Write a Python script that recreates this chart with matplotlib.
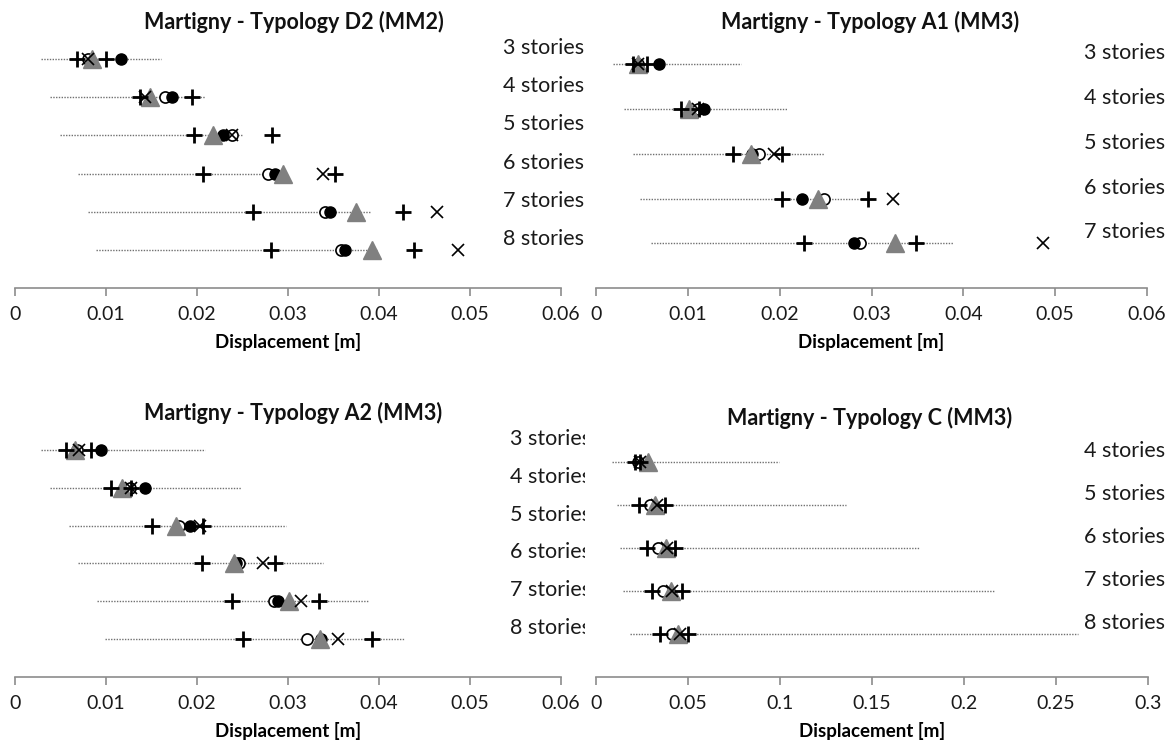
import numpy as np
import matplotlib
matplotlib.use("Agg")
import matplotlib.pyplot as plt
from matplotlib.transforms import Bbox, TransformedBbox

plt.rcParams['font.family'] = ['Lato', 'DejaVu Sans']

nan = np.nan

# ---- Martigny - Typology D2 (MM2)
d2_stories = ["3 stories", "4 stories", "5 stories", "6 stories", "7 stories", "8 stories"]
d2_lo = [0.0029, 0.0039, 0.0049, 0.0069, 0.0080, 0.0089]
d2_hi = [0.0160, 0.0209, 0.0250, 0.0290, 0.0390, 0.0398]
d2_plus_lo = [0.0068, 0.0137, 0.0197, 0.0207, 0.0261, 0.0281]
d2_plus_hi = [0.0100, 0.0195, 0.0282, 0.0352, 0.0426, 0.0438]
d2_filled = [0.0117, 0.0172, 0.0229, 0.0286, 0.0346, 0.0363]
d2_open = [0.0080, 0.0165, 0.0239, 0.0278, 0.0341, 0.0358]
d2_tri = [0.0085, 0.0148, 0.0218, 0.0294, 0.0375, 0.0392]
d2_cross = [0.0080, 0.0143, 0.0239, 0.0339, 0.0464, 0.0487]

# ---- Martigny - Typology A1 (MM3)
a1_stories = ["3 stories", "4 stories", "5 stories", "6 stories", "7 stories"]
a1_lo = [0.0019, 0.0030, 0.0040, 0.0048, 0.0060]
a1_hi = [0.0158, 0.0208, 0.0248, 0.0300, 0.0389]
a1_plus_lo = [0.0040, 0.0093, 0.0149, 0.0203, 0.0227]
a1_plus_hi = [0.0056, 0.0112, 0.0203, 0.0296, 0.0348]
a1_filled = [0.0069, 0.0118, 0.0170, 0.0224, 0.0281]
a1_open = [0.0046, 0.0111, 0.0177, 0.0248, 0.0287]
a1_tri = [0.0046, 0.0101, 0.0169, 0.0242, 0.0326]
a1_cross = [0.0046, 0.0111, 0.0194, 0.0323, 0.0487]

# ---- Martigny - Typology A2 (MM3)
a2_stories = ["3 stories", "4 stories", "5 stories", "6 stories", "7 stories", "8 stories"]
a2_lo = [0.0029, 0.0039, 0.0059, 0.0069, 0.0090, 0.0099]
a2_hi = [0.0209, 0.0248, 0.0298, 0.0338, 0.0389, 0.0428]
a2_plus_lo = [0.0056, 0.0106, 0.0150, 0.0205, 0.0239, 0.0251]
a2_plus_hi = [0.0083, 0.0128, 0.0207, 0.0286, 0.0334, 0.0392]
a2_filled = [0.0094, 0.0143, 0.0192, 0.0243, 0.0289, 0.0336]
a2_open = [0.0068, 0.0126, 0.0180, 0.0246, 0.0285, 0.0321]
a2_tri = [0.0066, 0.0118, 0.0177, 0.0241, 0.0301, 0.0335]
a2_cross = [0.0070, 0.0128, 0.0203, 0.0272, 0.0314, 0.0355]

# ---- Martigny - Typology C (MM3)
c_stories = ["4 stories", "5 stories", "6 stories", "7 stories", "8 stories"]
c_lo = [0.0087, 0.0112, 0.0130, 0.0147, 0.0185]
c_hi = [0.0994, 0.1357, 0.1754, 0.2169, 0.2617]
c_plus_lo = [0.0212, 0.0234, 0.0277, 0.0304, 0.0348]
c_plus_hi = [0.0239, 0.0375, 0.0429, 0.0466, 0.0502]
c_filled = [nan, nan, nan, nan, nan]
c_open = [0.0228, 0.0293, 0.0337, 0.0366, 0.0411]
c_tri = [0.0283, 0.0321, 0.0378, 0.0405, 0.0447]
c_cross = [0.0239, 0.0330, 0.0384, 0.0411, 0.0457]

ticks_006 = [0, 0.01, 0.02, 0.03, 0.04, 0.05, 0.06]
ticklabels_006 = ["0", "0.01", "0.02", "0.03", "0.04", "0.05", "0.06"]
ticks_03 = [0, 0.05, 0.1, 0.15, 0.2, 0.25, 0.3]
ticklabels_03 = ["0", "0.05", "0.1", "0.15", "0.2", "0.25", "0.3"]

W, H = 1170, 746
fig = plt.figure(figsize=(W / 100, H / 100), dpi=100)


def px_axes(x0, x1, ytop, ybot):
    return fig.add_axes([x0 / W, (H - ybot) / H, (x1 - x0) / W, (ybot - ytop) / H])


def panel(ax, stories, lo, hi, plo, phi, filled, opn, tri, cross, ticks, ticklabels,
          lab_dx, clip_x=None):
    y = np.arange(len(stories))
    for i in range(len(stories)):
        ax.plot([lo[i], hi[i]], [y[i], y[i]], color="#707070", lw=1.0,
                linestyle=(0, (1, 1)), zorder=1)
    ax.plot(opn, y, "o", ms=8, mfc="white", mec="black", mew=1.2, ls="none", zorder=2)
    ax.plot(filled, y, "o", ms=8, mfc="black", mec="black", ls="none", zorder=3)
    ax.plot(tri, y, "^", ms=12.5, mfc="#808080", mec="#808080", ls="none", zorder=4)
    ax.plot(plo, y, "+", ms=12, mec="black", mew=2.0, ls="none", zorder=5)
    ax.plot(phi, y, "+", ms=12, mec="black", mew=2.0, ls="none", zorder=5)
    ax.plot(cross, y, "x", ms=9, mec="black", mew=1.2, ls="none", zorder=6)

    ax.set_xlim(ticks[0], ticks[-1])
    ax.set_ylim(len(stories) if len(stories) == 5 else 6, -0.5)
    ax.set_xticks(ticks)
    ax.set_xticklabels(ticklabels)
    ax.set_yticks([])
    for s in ["left", "right", "top"]:
        ax.spines[s].set_visible(False)
    ax.spines["bottom"].set_color("#8c8c8c")
    ax.spines["bottom"].set_linewidth(1.2)
    ax.tick_params(axis="x", direction="out", length=6, width=1.2, color="#8c8c8c",
                   labelsize=14, labelcolor="#1a1a1a", pad=7)
    ax.set_xlabel("Displacement [m]", fontsize=13.5, fontweight="bold", labelpad=7)

    for i, s in enumerate(stories):
        t = ax.annotate(s, xy=(1.0, y[i]), xycoords=("axes fraction", "data"),
                        xytext=(lab_dx, 11), textcoords="offset pixels",
                        ha="right", va="center", fontsize=15.5, color="#1a1a1a",
                        annotation_clip=False)
        if clip_x is not None:
            t.set_clip_box(TransformedBbox(Bbox([[0, 0], [clip_x / W, 1]]), fig.transFigure))
            t.set_clip_on(True)


ax1 = px_axes(15, 561, 40, 288)
panel(ax1, d2_stories, d2_lo, d2_hi, d2_plus_lo, d2_plus_hi, d2_filled, d2_open, d2_tri,
      d2_cross, ticks_006, ticklabels_006, 23)
ax2 = px_axes(596, 1147, 42, 288)
panel(ax2, a1_stories, a1_lo, a1_hi, a1_plus_lo, a1_plus_hi, a1_filled, a1_open, a1_tri,
      a1_cross, ticks_006, ticklabels_006, 18)
ax3 = px_axes(15, 561, 431, 677)
panel(ax3, a2_stories, a2_lo, a2_hi, a2_plus_lo, a2_plus_hi, a2_filled, a2_open, a2_tri,
      a2_cross, ticks_006, ticklabels_006, 30, clip_x=585)
ax4 = px_axes(596, 1148, 441, 677)
panel(ax4, c_stories, c_lo, c_hi, c_plus_lo, c_plus_hi, c_filled, c_open, c_tri,
      c_cross, ticks_03, ticklabels_03, 17)

titles = ["Martigny - Typology D2 (MM2)", "Martigny - Typology A1 (MM3)",
          "Martigny - Typology A2 (MM3)", "Martigny - Typology C (MM3)"]
title_pos = [(294, 22), (870, 22), (293, 413), (870, 418)]
for t, (x, y) in zip(titles, title_pos):
    fig.text(x / W, 1 - y / H, t, ha="center", va="center", fontsize=15.5,
             fontweight="bold", color="#111111")

fig.savefig("out.png", dpi=100, facecolor="white")
